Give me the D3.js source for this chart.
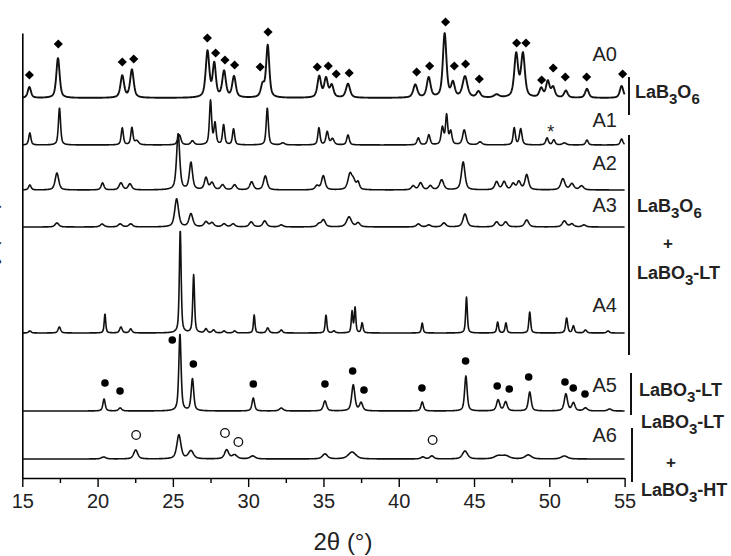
<!DOCTYPE html>
<html>
<head>
<meta charset="utf-8">
<script src="https://cdn.jsdelivr.net/npm/d3@7"></script>
<style>
  body { margin: 0; background: #fff; }
  svg { font-family: "Liberation Sans", Arial, sans-serif; }
</style>
</head>
<body>
<div id="chart"></div>
<script>
// sample names and vertical offsets (arbitrary intensity units)
const samples = ["A0", "A1", "A2", "A3", "A4", "A5", "A6"];
const offsets = [380, 333, 288, 251, 145, 67, 19];

// peaks: [2theta, height, fwhm]
const peaksA0 = [[15.47, 11, 0.25], [17.37, 40, 0.26], [21.64, 22, 0.28], [22.28, 28, 0.28], [27.3, 46, 0.28],
  [27.75, 33, 0.25], [28.4, 26, 0.28], [29.06, 21, 0.28], [30.96, 12, 0.28], [31.3, 52, 0.25], [34.72, 21, 0.28],
  [35.17, 19, 0.28], [35.55, 12, 0.28], [36.63, 14, 0.32], [41.1, 13, 0.32], [41.99, 20, 0.3], [43.05, 64, 0.28],
  [43.6, 14, 0.28], [44.4, 21, 0.38], [45.3, 6, 0.3], [46.5, 3, 0.4], [47.8, 43, 0.3], [48.25, 43, 0.3],
  [49.46, 9, 0.28], [49.9, 16, 0.28], [50.25, 10, 0.28], [51.1, 7, 0.28], [52.5, 9, 0.28], [54.8, 12, 0.28]];
const peaksA1 = [[15.5, 12, 0.17], [17.47, 37, 0.17], [21.64, 17, 0.17], [22.28, 17, 0.17], [22.6, 4, 0.3],
  [25.43, 10, 0.25], [26.3, 4, 0.25], [27.5, 44, 0.17], [27.8, 21, 0.17], [28.37, 20, 0.17], [29.03, 16, 0.17],
  [31.27, 37, 0.17], [32.3, 2, 0.3], [34.7, 17, 0.17], [35.25, 13, 0.2], [35.6, 6, 0.25], [36.63, 10, 0.2],
  [41.3, 7, 0.2], [42.0, 10, 0.2], [42.9, 17, 0.2], [43.18, 29, 0.17], [43.45, 13, 0.2], [44.35, 15, 0.25],
  [45.4, 3, 0.3], [47.67, 17, 0.17], [48.1, 16, 0.2], [49.85, 7, 0.2], [50.3, 5, 0.2], [51.0, 2, 0.3],
  [52.5, 5, 0.2], [54.8, 6, 0.2]];
const peaksA2 = [[15.5, 5, 0.2], [17.3, 17, 0.28], [20.33, 7, 0.22], [21.55, 7, 0.28], [22.15, 6, 0.28],
  [25.35, 56, 0.25], [26.2, 27, 0.25], [27.2, 12, 0.25], [27.6, 7, 0.28], [28.3, 5, 0.28], [29.1, 5, 0.28],
  [30.23, 8, 0.28], [31.14, 14, 0.28], [34.57, 4, 0.28], [34.99, 14, 0.28], [36.76, 15, 0.32], [37.0, 8, 0.32],
  [37.3, 7, 0.22], [40.96, 4, 0.28], [41.45, 7, 0.28], [42.1, 4, 0.28], [42.85, 10, 0.32], [44.28, 28, 0.28],
  [46.5, 8, 0.28], [47.0, 8, 0.28], [47.6, 6, 0.28], [47.98, 8, 0.28], [48.5, 15, 0.28], [50.9, 11, 0.32],
  [51.5, 6, 0.32], [52.14, 4, 0.32]];
const peaksA3 = [[17.3, 4, 0.3], [20.3, 3, 0.3], [21.5, 3, 0.3], [22.2, 3, 0.3], [25.25, 28, 0.3],
  [26.2, 13, 0.3], [27.2, 5, 0.3], [27.6, 4, 0.3], [28.4, 3, 0.3], [29.0, 3, 0.3], [30.2, 5, 0.3], [31.1, 6, 0.3],
  [32.2, 2, 0.3], [34.7, 3, 0.3], [35.0, 7, 0.3], [36.7, 10, 0.38], [37.3, 4, 0.3], [41.3, 3, 0.3], [42.0, 2, 0.3],
  [43.0, 4, 0.3], [44.4, 13, 0.32], [46.5, 5, 0.3], [47.1, 5, 0.3], [48.5, 7, 0.32], [51.0, 6, 0.32],
  [51.5, 3, 0.3], [52.3, 2, 0.3]];
const peaksA4 = [[15.5, 2, 0.2], [17.46, 6, 0.2], [20.49, 19, 0.12], [21.55, 6, 0.2], [22.2, 4, 0.2],
  [25.49, 103, 0.14], [26.38, 58, 0.14], [27.2, 4, 0.2], [27.7, 3, 0.2], [28.4, 2, 0.2], [29.1, 2, 0.2],
  [30.4, 18, 0.12], [31.3, 5, 0.2], [32.2, 3, 0.2], [35.17, 18, 0.13], [35.7, 2, 0.2], [36.9, 21, 0.12],
  [37.1, 25, 0.12], [37.57, 10, 0.14], [41.56, 10, 0.13], [44.5, 36, 0.13], [46.57, 11, 0.14], [47.12, 10, 0.14],
  [48.7, 21, 0.14], [51.15, 15, 0.16], [51.6, 7, 0.16], [52.4, 3, 0.2], [53.9, 2, 0.2]];
const peaksA5 = [[20.43, 12, 0.18], [21.5, 3, 0.25], [25.47, 77, 0.18], [26.3, 32, 0.2], [30.34, 13, 0.2],
  [32.2, 3, 0.3], [35.1, 10, 0.25], [36.98, 26, 0.25], [37.5, 8, 0.25], [41.56, 9, 0.2], [44.46, 35, 0.2],
  [46.6, 11, 0.25], [47.1, 9, 0.25], [48.7, 19, 0.22], [51.1, 17, 0.25], [51.6, 8, 0.25], [52.4, 3, 0.3],
  [54.0, 2, 0.3]];
const peaksA6 = [[20.4, 2, 0.35], [22.53, 9, 0.32], [25.4, 24, 0.32], [26.2, 8, 0.4], [28.57, 9, 0.32],
  [29.1, 4, 0.4], [30.3, 3, 0.4], [35.1, 5, 0.4], [36.9, 7, 0.6], [41.6, 2, 0.3], [42.2, 3, 0.3], [44.4, 8, 0.4],
  [46.6, 3, 0.6], [47.1, 3, 0.6], [48.6, 4, 0.5], [51.0, 3, 0.5]];
const peakSets = [peaksA0, peaksA1, peaksA2, peaksA3, peaksA4, peaksA5, peaksA6];

// phase markers: [2theta, level above the pattern's baseline]
const diamondsA0 = [[15.47, 23], [17.39, 54], [21.64, 36], [22.4, 39], [27.29, 60], [27.84, 45], [28.46, 38],
  [29.1, 33], [30.8, 31], [31.32, 66], [34.59, 31], [35.32, 32], [35.85, 24], [36.71, 25], [41.19, 26],
  [42.05, 32], [43.11, 76], [43.69, 32], [44.44, 34], [45.35, 19], [47.83, 55], [48.45, 55], [49.49, 18],
  [50.26, 30], [51.06, 21], [52.48, 21], [54.87, 24]];
const starsA1 = [[50.1, 15]];
const dotsA5 = [[20.49, 28], [21.49, 20], [24.96, 71], [26.36, 47], [30.34, 27], [35.1, 27], [36.94, 40],
  [37.69, 21], [41.54, 23], [44.44, 50], [46.54, 25], [47.34, 22], [48.63, 34], [51.04, 29], [51.59, 23],
  [52.37, 17]];
const ringsA6 = [[22.56, 24], [28.46, 26], [29.35, 17], [42.25, 19]];

// x axis ticks
const majorTicks = [15, 20, 25, 30, 35, 40, 45, 50, 55];
const minorTicks = [17.5, 22.5, 27.5, 32.5, 37.5, 42.5, 47.5, 52.5];

const width = 731;
const height = 556;

const svg = d3.select("#chart")
    .append("svg")
    .attr("width", width)
    .attr("height", height);

const x = d3.scaleLinear().domain([15, 55]).range([22.3, 624.6]);
const y = d3.scaleLinear().domain([0, 445]).range([478, 33]);

// build a profile from the peak list
function profile(peaks) {
    const pts = [];
    for (let t = 15; t <= 55.0001; t += 0.02) {
        let v = 0;
        peaks.forEach(p => {
            const g = (t - p[0]) / (p[2] / 2);
            v += p[1] * (0.6 / (1 + g * g) + 0.4 * Math.exp(-Math.LN2 * g * g));
        });
        pts.push([t, v]);
    }
    return pts;
}

const line = d3.line()
    .x(d => x(d[0]));

peakSets.forEach((peaks, i) => {
    const off = offsets[i];
    svg.append("path")
        .datum(profile(peaks))
        .attr("fill", "none")
        .attr("stroke", "#111")
        .attr("stroke-width", i === 0 ? 1.9 : 1.6)
        .attr("stroke-linejoin", "round")
        .attr("d", line.y(d => y(off + d[1])));
});

// axes
const xAxis = svg.append("g")
    .attr("transform", `translate(0,${y(0)})`)
    .call(d3.axisBottom(x).tickValues(majorTicks).tickSize(9).tickSizeOuter(0).tickPadding(7));
xAxis.selectAll("text")
    .attr("font-size", 20)
    .attr("font-family", "Liberation Sans, Arial, sans-serif")
    .attr("fill", "#222");
xAxis.select(".domain").attr("stroke-width", 1.6);
xAxis.selectAll(".tick line").attr("stroke-width", 1.4);

svg.append("g")
    .attr("transform", `translate(0,${y(0)})`)
    .call(d3.axisBottom(x).tickValues(minorTicks).tickSize(5).tickFormat(""))
    .call(g => g.select(".domain").remove())
    .selectAll(".tick line").attr("stroke-width", 1.4);

svg.append("g")
    .attr("transform", `translate(${x(15)},0)`)
    .call(d3.axisLeft(y).tickValues([]).tickSizeOuter(0))
    .select(".domain").attr("stroke-width", 1.6);

svg.append("text")
    .attr("x", 343)
    .attr("y", 550)
    .attr("text-anchor", "middle")
    .attr("font-size", 24)
    .attr("fill", "#222")
    .text("2θ (°)");

// y title, mostly cut off at the left edge as in the original figure
svg.append("text")
    .attr("transform", "translate(-3,265) rotate(-90)")
    .attr("text-anchor", "middle")
    .attr("font-size", 20)
    .attr("fill", "#222")
    .text("Intensity (a.u.)");

// sample names
const nameBaselines = [61, 127, 170, 212, 312, 392, 442];
svg.selectAll("text.sample")
    .data(samples)
    .enter()
    .append("text")
    .attr("class", "sample")
    .attr("x", 617)
    .attr("y", (d, i) => nameBaselines[i])
    .attr("text-anchor", "end")
    .attr("font-size", 20)
    .attr("fill", "#222")
    .text(d => d);

// markers
svg.selectAll("path.diamond")
    .data(diamondsA0)
    .enter()
    .append("path")
    .attr("class", "diamond")
    .attr("d", d3.symbol(d3.symbolSquare, 42))
    .attr("transform", d => `translate(${x(d[0])},${y(offsets[0] + d[1])}) rotate(45)`)
    .attr("fill", "#000");

svg.selectAll("text.star")
    .data(starsA1)
    .enter()
    .append("text")
    .attr("class", "star")
    .attr("x", d => x(d[0]))
    .attr("y", d => y(offsets[1] + d[1]) + 8)
    .attr("text-anchor", "middle")
    .attr("font-size", 18)
    .attr("fill", "#222")
    .text("*");

svg.selectAll("circle.dot")
    .data(dotsA5)
    .enter()
    .append("circle")
    .attr("class", "dot")
    .attr("cx", d => x(d[0]))
    .attr("cy", d => y(offsets[5] + d[1]))
    .attr("r", 3.8)
    .attr("fill", "#000");

svg.selectAll("circle.ring")
    .data(ringsA6)
    .enter()
    .append("circle")
    .attr("class", "ring")
    .attr("cx", d => x(d[0]))
    .attr("cy", d => y(offsets[6] + d[1]))
    .attr("r", 4.3)
    .attr("fill", "#fff")
    .attr("stroke", "#111")
    .attr("stroke-width", 1.3);

// phase brackets and labels
const brackets = [[629, 77, 115], [629, 135, 355], [631, 373, 415], [632, 428, 482]];
svg.selectAll("line.bracket")
    .data(brackets)
    .enter()
    .append("line")
    .attr("class", "bracket")
    .attr("x1", d => d[0])
    .attr("x2", d => d[0])
    .attr("y1", d => d[1])
    .attr("y2", d => d[2])
    .attr("stroke", "#111")
    .attr("stroke-width", 2);

function phase(xp, yp, parts) {
    const t = svg.append("text")
        .attr("x", xp)
        .attr("y", yp)
        .attr("font-size", 18)
        .attr("font-weight", "bold")
        .attr("fill", "#222");
    let down = false;
    parts.forEach(p => {
        const sub = p[1];
        const s = t.append("tspan").text(p[0]);
        if (sub && !down) { s.attr("dy", 6).attr("font-size", 15); down = true; }
        else if (!sub && down) { s.attr("dy", -6); down = false; }
        else if (sub) s.attr("font-size", 15);
    });
}

phase(635, 98, [["LaB"], ["3", 1], ["O"], ["6", 1]]);
phase(637, 212, [["LaB"], ["3", 1], ["O"], ["6", 1]]);
phase(637, 279, [["LaBO"], ["3", 1], ["-LT"]]);
phase(639, 396, [["LaBO"], ["3", 1], ["-LT"]]);
phase(641, 428, [["LaBO"], ["3", 1], ["-LT"]]);
phase(641, 496, [["LaBO"], ["3", 1], ["-HT"]]);

svg.append("text").attr("x", 668).attr("y", 249).attr("text-anchor", "middle")
    .attr("font-size", 17).attr("font-weight", "bold").attr("fill", "#222").text("+");
svg.append("text").attr("x", 671).attr("y", 468).attr("text-anchor", "middle")
    .attr("font-size", 17).attr("font-weight", "bold").attr("fill", "#222").text("+");
</script>
</body>
</html>
